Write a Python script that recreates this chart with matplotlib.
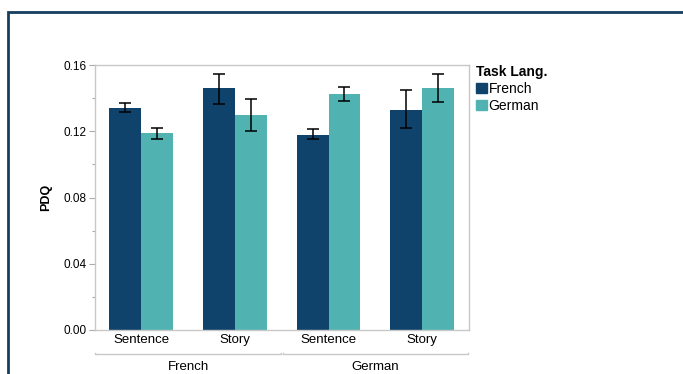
import matplotlib
matplotlib.use('Agg')
import matplotlib.pyplot as plt
import numpy as np
from matplotlib.patches import Rectangle
from matplotlib.lines import Line2D
from matplotlib.ticker import MultipleLocator

plt.rcParams['font.family'] = ['Liberation Sans', 'DejaVu Sans']

# data
groups = ['French', 'German']
conditions = ['Sentence', 'Story', 'Sentence', 'Story']
french = [0.134, 0.146, 0.118, 0.133]
french_lo = [0.1314, 0.1367, 0.1151, 0.1222]
french_hi = [0.1370, 0.1548, 0.1212, 0.1447]
german = [0.119, 0.130, 0.1425, 0.146]
german_lo = [0.1151, 0.1200, 0.1380, 0.1377]
german_hi = [0.1218, 0.1395, 0.1465, 0.1544]

dark = '#0f436b'
teal = '#50b3b2'
grey = '#c8c8c8'

fig = plt.figure(figsize=(6.83, 3.74), dpi=100)

# outer frame (only left and top visible in the crop)
fig.patches.append(Rectangle((8 / 683, -0.1), 1.2, 1 - 12.5 / 374 + 0.1, transform=fig.transFigure,
                             fill=False, edgecolor='#163e5f', linewidth=2))

ax = fig.add_axes([94.5 / 683, 44 / 374, 374.5 / 683, 265 / 374])

x = np.arange(len(conditions))
w = 0.34
for vals, lo, hi, col, off in [(french, french_lo, french_hi, dark, -w / 2),
                               (german, german_lo, german_hi, teal, w / 2)]:
    vals = np.array(vals)
    err = [vals - np.array(lo), np.array(hi) - vals]
    ax.bar(x + off, vals, w, color=col, zorder=2)
    ax.errorbar(x + off, vals, yerr=err, fmt='none', ecolor='black', elinewidth=1.1,
                capsize=4.5, capthick=1.1, zorder=3)

ax.set_xlim(-0.5, 3.5)
ax.set_ylim(0, 0.16)
ax.yaxis.set_major_locator(MultipleLocator(0.04))
ax.yaxis.set_minor_locator(MultipleLocator(0.02))
ax.set_yticklabels(['%.2f' % v for v in ax.get_yticks()])
ax.tick_params(axis='y', which='major', length=4, width=0.8, color='#aaaaaa', labelsize=8.5, pad=2)
ax.tick_params(axis='y', which='minor', length=2.5, width=0.8, color='#aaaaaa')
ax.set_xticks(x)
ax.set_xticklabels(conditions)
ax.tick_params(axis='x', length=0, labelsize=9.5, pad=3)
for s in ax.spines.values():
    s.set_color(grey)
    s.set_linewidth(1)
ax.set_ylabel('PDQ', fontweight='bold', fontsize=9, labelpad=8)

# group brackets under the category labels
trans = ax.get_xaxis_transform()
for g, name in enumerate(groups):
    x0, x1 = 2 * g - 0.49, 2 * g + 1.49
    ax.add_line(Line2D([x0, x0, x1, x1], [-0.085, -0.091, -0.091, -0.085], transform=trans,
                       color=grey, linewidth=1, clip_on=False))
    ax.text(2 * g + 0.5, -0.14, name, transform=trans, ha='center', va='center', fontsize=9.5)

handles = [Rectangle((0, 0), 1, 1, color=dark), Rectangle((0, 0), 1, 1, color=teal)]
leg = fig.legend(handles, ['French', 'German'], title='Task Lang.', loc='upper left',
                 bbox_to_anchor=(476 / 683, 1 - 65 / 374), frameon=False, fontsize=10,
                 handlelength=0.8, handleheight=0.7, handletextpad=0.1, labelspacing=0.2,
                 borderpad=0, borderaxespad=0)
leg.get_title().set_fontweight('bold')
leg.get_title().set_fontsize(10)
leg._legend_box.align = 'left'

fig.savefig('out.png', dpi=100)
